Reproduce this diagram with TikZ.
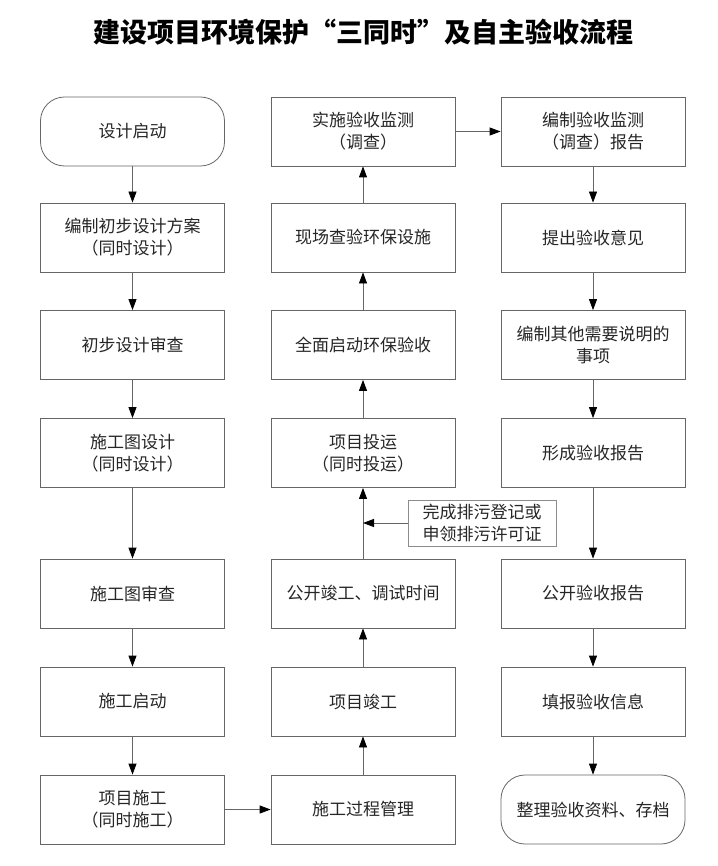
\documentclass[tikz,border=0pt]{standalone}
\usepackage{fontspec}
\newfontfamily\cjk{Noto Sans CJK SC}
\usetikzlibrary{arrows.meta}
\begin{document}
\begin{tikzpicture}[x=1pt,y=-1pt,
  box/.style={draw=black!60, line width=0.8pt, minimum width=184pt, minimum height=69pt,
    align=center, font=\cjk\fontsize{17}{22}\selectfont, text=black!85, inner sep=0pt},
  term/.style={box, rounded corners=24pt},
  notebox/.style={draw=black!45, line width=0.8pt, minimum width=148pt, minimum height=46pt,
    align=center, font=\cjk\fontsize{17}{22}\selectfont, text=black!85, inner sep=0pt},
  arr/.style={draw=black!60, line width=0.8pt, -{Triangle[length=11pt,width=8pt,color=black]}}]
\useasboundingbox (0,0) rectangle (717,866);
\fill[white] (0,0) rectangle (717,866);
\node[font=\cjk\bfseries\fontsize{27}{30}\selectfont, text=black] (title) at (363,32)
  {建设项目环境保护“三同时”及自主验收流程};
% left column
\node[term] (l1) at (132.5,131.5) {设计启动};
\node[box]  (l2) at (132.5,237.5) {编制初步设计方案\\（同时设计）};
\node[box]  (l3) at (132.5,345)   {初步设计审查};
\node[box]  (l4) at (132.5,453)   {施工图设计\\（同时设计）};
\node[box]  (l5) at (132.5,593.5) {施工图审查};
\node[box]  (l6) at (132.5,701.5) {施工启动};
\node[box]  (l7) at (132.5,809.5) {项目施工\\（同时施工）};
% middle column
\node[box] (m1) at (363,131.5) {实施验收监测\\（调查）};
\node[box] (m2) at (363,237.5) {现场查验环保设施};
\node[box] (m3) at (363,345)   {全面启动环保验收};
\node[box] (m4) at (363,453)   {项目投运\\（同时投运）};
\node[box] (m5) at (363,593.5) {公开竣工、调试时间};
\node[box] (m6) at (363,701.5) {项目竣工};
\node[box] (m7) at (363,809.5) {施工过程管理};
\node[notebox] (note) at (482,523) {完成排污登记或\\申领排污许可证};
% right column
\node[box]  (r1) at (593,131.5) {编制验收监测\\（调查）报告};
\node[box]  (r2) at (593,237.5) {提出验收意见};
\node[box]  (r3) at (593,345)   {编制其他需要说明的\\事项};
\node[box]  (r4) at (593,453)   {形成验收报告};
\node[box]  (r5) at (593,593.5) {公开验收报告};
\node[box]  (r6) at (593,701.5) {填报验收信息};
\node[term] (r7) at (593,809.5) {整理验收资料、存档};
% arrows
\foreach \a/\b in {l1/l2,l2/l3,l3/l4,l4/l5,l5/l6,l6/l7,
                   m7/m6,m6/m5,m5/m4,m4/m3,m3/m2,m2/m1,
                   r1/r2,r2/r3,r3/r4,r4/r5,r5/r6,r6/r7,
                   l7/m7,m1/r1}
  \draw[arr] (\a) -- (\b);
\draw[arr] (note.west) -- (note.west -| m4.south);
\end{tikzpicture}
\end{document}
